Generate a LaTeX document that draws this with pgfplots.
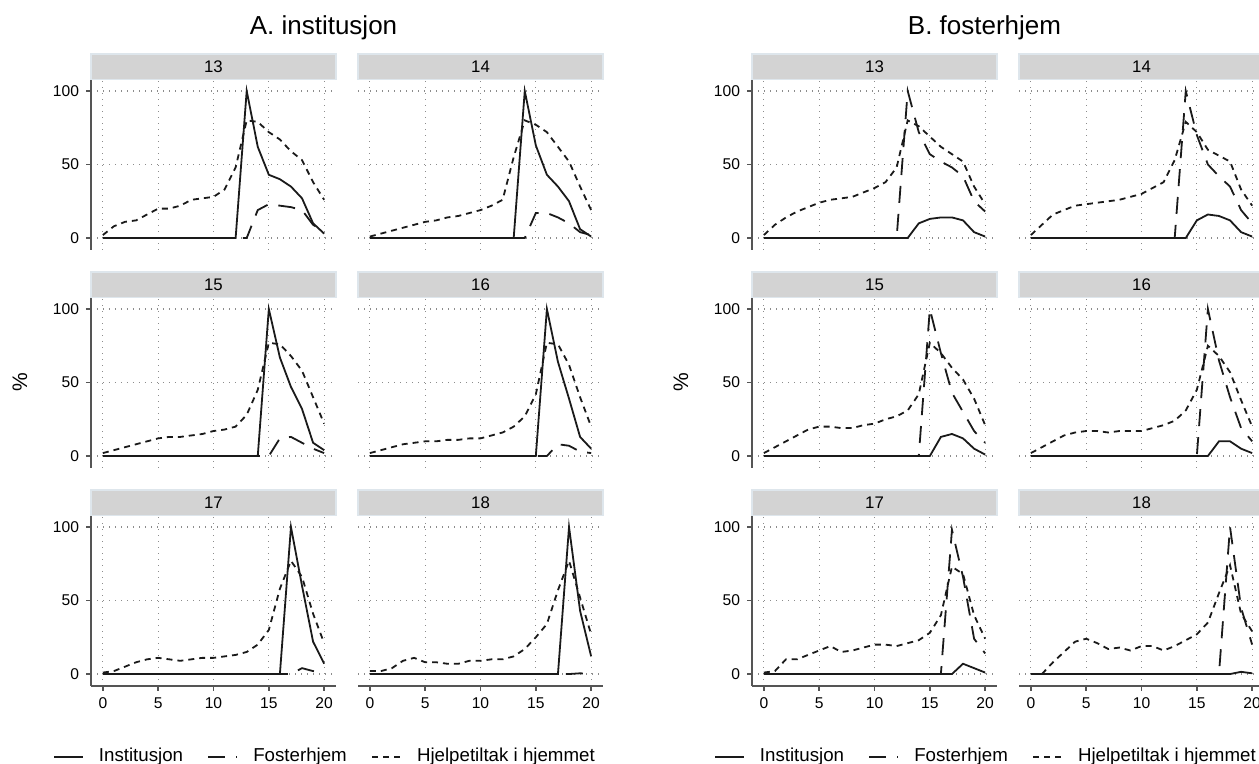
\documentclass[border=0pt]{standalone}
\usepackage{pgfplots}
\pgfplotsset{compat=1.18}
\usepackage{pgfplotstable}
\usepackage{fontspec}
\setmainfont{Liberation Sans}
\definecolor{axgray}{RGB}{85,85,85}
\definecolor{gridgray}{RGB}{140,140,140}
\definecolor{stripfill}{RGB}{211,211,211}
\definecolor{stripdraw}{RGB}{222,230,236}
\definecolor{lineblack}{RGB}{26,26,26}

\pgfplotsset{
  inst/.style={lineblack, line width=0.9pt, solid, no markers},
  fost/.style={lineblack, line width=0.9pt, dash pattern=on 8.5pt off 5.5pt, no markers},
  hjelp/.style={lineblack, line width=0.9pt, dash pattern=on 3pt off 2.5pt, no markers},
  facet/.style={
    scale only axis, width=122.5pt, height=85.3pt, anchor=south west,
    xmin=-1.07, xmax=21.07, ymin=-8, ymax=108,
    xtick={0,5,10,15,20}, ytick={0,50,100},
    axis lines*=left, axis line style={axgray, line width=0.9pt},
    tick style={axgray, line width=0.9pt}, tick align=outside, major tick length=2.5pt,
    grid=major, major grid style={gridgray, line width=0.6pt, dash pattern=on 0.6pt off 2.4pt},
    /pgf/number format/assume math mode=true,
    tick label style={font=\fontsize{7.8}{9}\selectfont, black},
    legend image code/.code={\draw[#1] (0pt,0pt) -- (14.5pt,0pt);},
    y label style={at={(axis description cs:-0.29,0.5)}, anchor=center, font=\fontsize{10.5}{12}\selectfont},
  },
  noy/.style={y axis line style={draw=none}, ytick style={draw=none}, yticklabels={}},
  nox/.style={x axis line style={draw=none}, xtick style={draw=none}, xticklabels={}},
  leg/.style={
    legend entries={Institusjon,Fosterhjem,Hjelpetiltak i hjemmet},
    legend columns=3, legend cell align=left,
    legend style={at={(axis description cs:-0.1563,-0.4156)}, anchor=west, draw=none, fill=none,
      inner xsep=0pt, inner ysep=0pt, font=\fontsize{9.35}{11}\selectfont,
      /tikz/every odd column/.append style={column sep=5.5pt},
      /tikz/every even column/.append style={column sep=10.2pt}},
  },
}

% x  Institusjon  Fosterhjem  Hjelpetiltak
\pgfplotstableread{
x i f h
0 0 0 2
1 0 0 8
2 0 0 11
3 0 0 12
4 0 0 16
5 0 0 20
6 0 0 20
7 0 0 22
8 0 0 26
9 0 0 27
10 0 0 28
11 0 0 33
12 0 0 48
13 100 0 80
14 62 19 79
15 43 23 72
16 40 22 67
17 35 21 59
18 27 19 53
19 10 9 38
20 3 4 26
}\tAa
\pgfplotstableread{
x i f h
0 0 0 1
1 0 0 3
2 0 0 5
3 0 0 7
4 0 0 9
5 0 0 11
6 0 0 12
7 0 0 14
8 0 0 15
9 0 0 17
10 0 0 19
11 0 0 22
12 0 0 26
13 0 0 55
14 100 0 80
15 63 17 77
16 43 17 72
17 35 14 62
18 25 10 52
19 6 4 35
20 1 2 19
}\tAb
\pgfplotstableread{
x i f h
0 0 0 2
1 0 0 4
2 0 0 6
3 0 0 8
4 0 0 10
5 0 0 12
6 0 0 13
7 0 0 13
8 0 0 14
9 0 0 15
10 0 0 17
11 0 0 18
12 0 0 20
13 0 0 28
14 0 0 45
15 100 0 77
16 67 12 76
17 47 13 68
18 32 9 58
19 9 5 40
20 4 2 22
}\tAc
\pgfplotstableread{
x i f h
0 0 0 2
1 0 0 4
2 0 0 6
3 0 0 8
4 0 0 9
5 0 0 10
6 0 0 10
7 0 0 11
8 0 0 11
9 0 0 12
10 0 0 12
11 0 0 14
12 0 0 16
13 0 0 20
14 0 0 27
15 0 0 42
16 100 0 77
17 64 8 76
18 39 7 62
19 13 3 40
20 5 2 20
}\tAd
\pgfplotstableread{
x i f h
0 0 0 1
1 0 0 2
2 0 0 5
3 0 0 8
4 0 0 10
5 0 0 11
6 0 0 10
7 0 0 9
8 0 0 10
9 0 0 11
10 0 0 11
11 0 0 12
12 0 0 13
13 0 0 15
14 0 0 20
15 0 0 30
16 0 0 58
17 100 0 77
18 60 4 66
19 22 2 41
20 7 1 21
}\tAe
\pgfplotstableread{
x i f h
0 0 0 2
1 0 0 2
2 0 0 4
3 0 0 9
4 0 0 11
5 0 0 8
6 0 0 8
7 0 0 7
8 0 0 7
9 0 0 9
10 0 0 9
11 0 0 10
12 0 0 10
13 0 0 12
14 0 0 17
15 0 0 25
16 0 0 34
17 0 0 57
18 100 0 77
19 43 0.5 52
20 12 0 27
}\tAf
\pgfplotstableread{
x i f h
0 0 0 2
1 0 0 9
2 0 0 14
3 0 0 18
4 0 0 21
5 0 0 24
6 0 0 26
7 0 0 27
8 0 0 28
9 0 0 31
10 0 0 34
11 0 0 38
12 0 0 48
13 0 100 80
14 10 72 76
15 13 57 69
16 14 52 62
17 14 48 57
18 12 42 52
19 4 25 35
20 1 18 23
}\tBa
\pgfplotstableread{
x i f h
0 0 0 2
1 0 0 9
2 0 0 16
3 0 0 19
4 0 0 22
5 0 0 23
6 0 0 24
7 0 0 25
8 0 0 26
9 0 0 28
10 0 0 30
11 0 0 34
12 0 0 38
13 0 0 53
14 0 100 79
15 12 70 72
16 16 50 60
17 15 42 56
18 12 35 52
19 4 19 33
20 1 10 22
}\tBb
\pgfplotstableread{
x i f h
0 0 0 2
1 0 0 6
2 0 0 10
3 0 0 14
4 0 0 18
5 0 0 20
6 0 0 20
7 0 0 19
8 0 0 19
9 0 0 21
10 0 0 22
11 0 0 25
12 0 0 27
13 0 0 31
14 0 0 42
15 0 100 77
16 13 70 70
17 15 43 60
18 12 30 52
19 5 17 39
20 1 9 21
}\tBc
\pgfplotstableread{
x i f h
0 0 0 2
1 0 0 6
2 0 0 10
3 0 0 14
4 0 0 16
5 0 0 17
6 0 0 17
7 0 0 16
8 0 0 17
9 0 0 17
10 0 0 17
11 0 0 19
12 0 0 21
13 0 0 24
14 0 0 31
15 0 0 45
16 0 100 75
17 10 65 68
18 10 40 57
19 5 19 38
20 2 10 20
}\tBd
\pgfplotstableread{
x i f h
0 0 0 1
1 0 0 2
2 0 0 10
3 0 0 10
4 0 0 13
5 0 0 16
6 0 0 19
7 0 0 15
8 0 0 16
9 0 0 18
10 0 0 20
11 0 0 20
12 0 0 19
13 0 0 21
14 0 0 23
15 0 0 28
16 0 0 40
17 0 98 73
18 7 66 68
19 4 24 40
20 1 14 24
}\tBe
\pgfplotstableread{
x i f h
0 0 0 0
1 0 0 0
2 0 0 8
3 0 0 15
4 0 0 22
5 0 0 24
6 0 0 21
7 0 0 17
8 0 0 18
9 0 0 16
10 0 0 19
11 0 0 19
12 0 0 16
13 0 0 19
14 0 0 23
15 0 0 27
16 0 0 35
17 0 0 55
18 0 100 74
19 1.5 45 41
20 0.5 20 29
}\tBf

% #1 table, #2 left x (px), #3 bottom y (px), #4 extra options
\newcommand\facet[4]{%
\begin{axis}[facet, at={(#2*0.5pt,-#3*0.5pt)}, #4]
\addplot[inst] table[x=x,y=i]{#1};
\addplot[fost] table[x=x,y=f]{#1};
\addplot[hjelp] table[x=x,y=h]{#1};
\end{axis}}

% #1 left x (px), #2 bottom y of strip (px), #3 label
\newcommand\strip[3]{%
\draw[stripdraw, fill=stripfill, line width=0.6pt] (#1*0.5pt,-#2*0.5pt) rectangle ++(122.5pt,12.6pt);
\node[font=\fontsize{8.4}{10}\selectfont] at (#1*0.5pt+61.25pt,-#2*0.5pt+6.3pt) {#3};}

\begin{document}
\begin{tikzpicture}
\useasboundingbox (0,0) rectangle (629.5pt,-382pt);
\clip (0,0) rectangle (629.5pt,-382pt);

% titles
\node[anchor=base, font=\fontsize{13}{15}\selectfont] at (161.75pt,-17.5pt) {A. institusjon};
\node[anchor=base, font=\fontsize{13}{15}\selectfont] at (492.25pt,-17.5pt) {B. fosterhjem};

% panel A
\facet{\tAa}{91}{249.8}{nox}
\facet{\tAb}{358}{249.8}{nox,noy}
\facet{\tAc}{91}{467.8}{nox,ylabel={\%}}
\facet{\tAd}{358}{467.8}{nox,noy}
\facet{\tAe}{91}{685.8}{leg}
\facet{\tAf}{358}{685.8}{noy}
% panel B
\facet{\tBa}{752}{249.8}{nox}
\facet{\tBb}{1019}{249.8}{nox,noy}
\facet{\tBc}{752}{467.8}{nox,ylabel={\%}}
\facet{\tBd}{1019}{467.8}{nox,noy}
\facet{\tBe}{752}{685.8}{leg}
\facet{\tBf}{1019}{685.8}{noy}

% strips
\strip{91}{79.2}{13}
\strip{358}{79.2}{14}
\strip{91}{297.2}{15}
\strip{358}{297.2}{16}
\strip{91}{515.2}{17}
\strip{358}{515.2}{18}
\strip{752}{79.2}{13}
\strip{1019}{79.2}{14}
\strip{752}{297.2}{15}
\strip{1019}{297.2}{16}
\strip{752}{515.2}{17}
\strip{1019}{515.2}{18}
\end{tikzpicture}
\end{document}
